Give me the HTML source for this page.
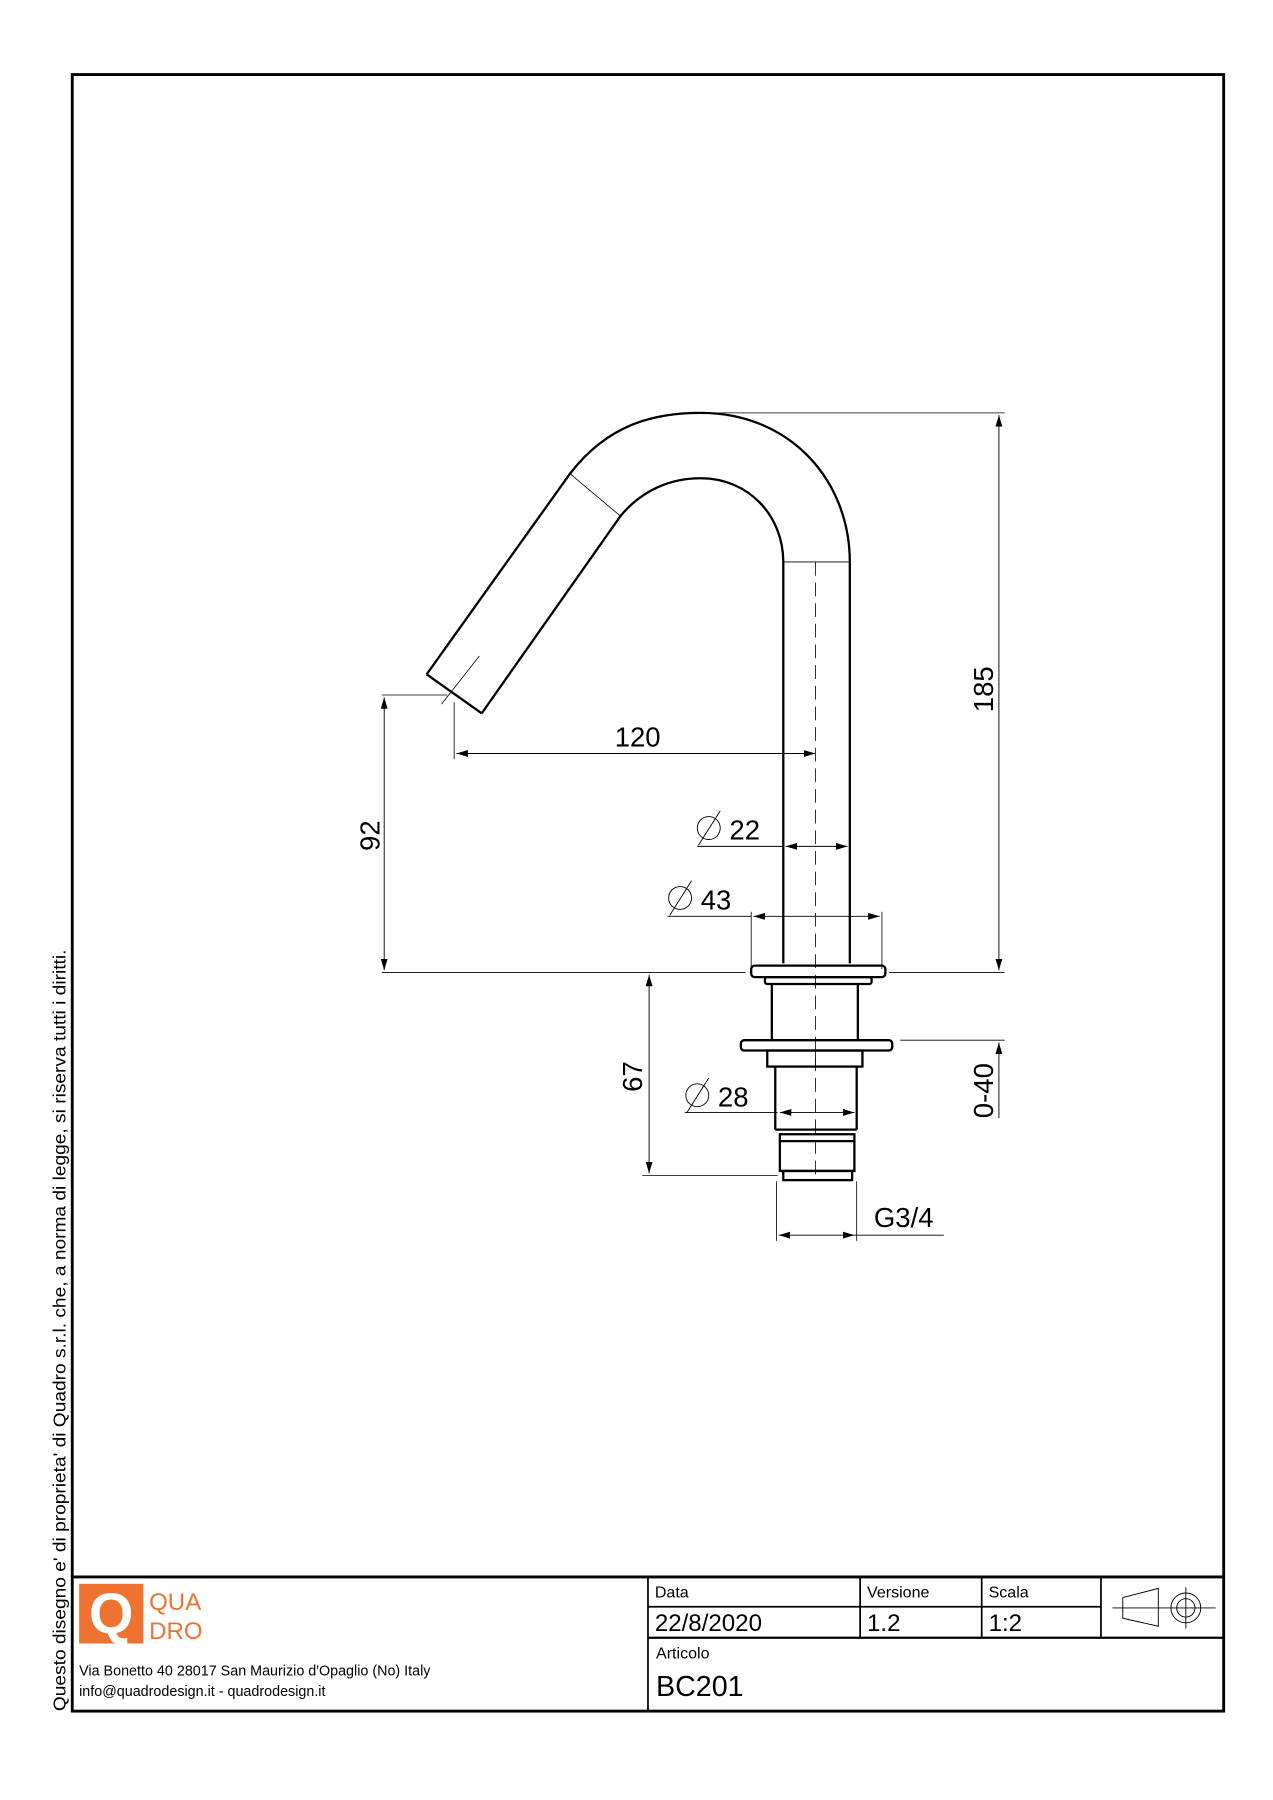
<!DOCTYPE html>
<html><head><meta charset="utf-8"><style>html,body{margin:0;padding:0;background:#fff}svg{display:block}text{font-family:"Liberation Sans",sans-serif}</style></head><body>
<svg width="1273" height="1800" viewBox="0 0 1110 1569.5" preserveAspectRatio="none" xmlns="http://www.w3.org/2000/svg">
<defs>
<marker id="a" viewBox="0 0 10 6" refX="10" refY="3" markerWidth="10" markerHeight="6" markerUnits="userSpaceOnUse" orient="auto-start-reverse"><path d="M0,0 L10,3 L0,6 z" fill="#000"/></marker>
</defs>
<rect width="1110" height="1569.5" fill="#fff"/>
<!-- border -->
<rect x="63" y="65" width="1004" height="1427" fill="none" stroke="#000" stroke-width="2.5"/>
<line x1="63" y1="1375" x2="1067" y2="1375" stroke="#000" stroke-width="2.5"/>
<g stroke="#000" stroke-width="1.5">
<line x1="565" y1="1375" x2="565" y2="1492"/>
<line x1="750" y1="1375" x2="750" y2="1428"/>
<line x1="856" y1="1375" x2="856" y2="1428"/>
<line x1="960" y1="1375" x2="960" y2="1428"/>
<line x1="565" y1="1401" x2="960" y2="1401"/>
<line x1="565" y1="1428" x2="1067" y2="1428" stroke-width="2"/>
</g>
<text x="571" y="1393" font-size="14">Data</text>
<text x="571" y="1422" font-size="21">22/8/2020</text>
<text x="756" y="1393" font-size="14">Versione</text>
<text x="756" y="1422" font-size="21">1.2</text>
<text x="862" y="1393" font-size="14">Scala</text>
<text x="862" y="1422" font-size="21">1:2</text>
<text x="572" y="1446" font-size="14">Articolo</text>
<text x="572" y="1479" font-size="25">BC201</text>
<!-- projection symbol -->
<g stroke="#000" stroke-width="0.8" fill="none">
<path d="M979,1393 L1010,1385 L1010,1418 L979,1411 Z"/>
<circle cx="1034" cy="1402" r="13"/><circle cx="1034" cy="1402" r="8"/>
<line x1="970" y1="1402" x2="1060" y2="1402"/><line x1="1034" y1="1384" x2="1034" y2="1420"/>
</g>
<!-- logo -->
<rect x="69" y="1381" width="56" height="52" fill="#ee7330"/>
<text x="97" y="1424" font-size="50" fill="#fff" text-anchor="middle" font-weight="bold">Q</text>
<text x="130" y="1404" font-size="21" fill="#ee7330">QUA</text>
<text x="130" y="1429" font-size="21" fill="#ee7330">DRO</text>
<text x="69" y="1461" font-size="12.5">Via Bonetto 40  28017 San Maurizio d'Opaglio (No) Italy</text>
<text x="69" y="1479" font-size="12.5">info@quadrodesign.it  -  quadrodesign.it</text>
<text transform="translate(57,1492) rotate(-90)" font-size="15" textLength="664" lengthAdjust="spacingAndGlyphs">Questo disegno e' di proprieta' di Quadro s.r.l. che, a norma di legge, si riserva tutti i diritti.</text>
<!-- tap -->
<g fill="none" stroke="#000" stroke-width="2">
<path d="M372,588 L497,413 C530,370 570,360 611,360 C690,360 741,420 741,490 L741,840"/>
<path d="M420,622 L541,450 C560,427 585,417 611,417 C653,417 683,450 683,490 L683,840"/>
<line x1="372" y1="588" x2="420" y2="622"/>
<rect x="655" y="842" width="117" height="10" rx="3"/>
<rect x="667" y="852" width="93" height="6" rx="2"/>
<line x1="673" y1="858" x2="673" y2="907"/><line x1="748" y1="858" x2="748" y2="907"/>
<rect x="646" y="907" width="132" height="9" rx="3"/>
<rect x="669" y="916" width="83" height="14"/>
<line x1="676" y1="930" x2="676" y2="985"/><line x1="747" y1="930" x2="747" y2="985"/>
<line x1="676" y1="985" x2="747" y2="985"/>
<rect x="680" y="989" width="65" height="32"/>
<line x1="680" y1="995" x2="745" y2="995"/>
<rect x="683" y="1021" width="60" height="8"/>
</g>
<g fill="none" stroke="#000" stroke-width="0.7">
<line x1="497" y1="413" x2="541" y2="450"/>
<line x1="385" y1="614" x2="418" y2="572"/>
<line x1="683" y1="490" x2="741" y2="490"/>
<line x1="711" y1="916" x2="711" y2="930"/>
<line x1="711" y1="490" x2="711" y2="1030" stroke-dasharray="12,6"/>
<!-- extension lines -->
<line x1="611" y1="360" x2="876" y2="360"/>
<line x1="333" y1="848" x2="650" y2="848"/>
<line x1="775" y1="848" x2="876" y2="848"/>
<line x1="333" y1="606" x2="390" y2="606"/>
<line x1="396" y1="612" x2="396" y2="662"/>
<line x1="655" y1="795" x2="655" y2="845"/>
<line x1="769" y1="795" x2="769" y2="845"/>
<line x1="785" y1="907" x2="876" y2="907"/>
<line x1="560" y1="1025" x2="678" y2="1025"/>
<line x1="677" y1="1030" x2="677" y2="1082"/>
<line x1="747" y1="1030" x2="747" y2="1082"/>
</g>
<g fill="none" stroke="#000" stroke-width="0.8">
<line x1="871" y1="362" x2="871" y2="846" marker-start="url(#a)" marker-end="url(#a)"/>
<line x1="335" y1="608" x2="335" y2="846" marker-start="url(#a)" marker-end="url(#a)"/>
<line x1="398" y1="657" x2="711" y2="657" marker-start="url(#a)" marker-end="url(#a)"/>
<line x1="608" y1="738" x2="683" y2="738"/>
<line x1="685" y1="738" x2="739" y2="738" marker-start="url(#a)" marker-end="url(#a)"/>
<line x1="582" y1="799" x2="655" y2="799"/>
<line x1="657" y1="799" x2="767" y2="799" marker-start="url(#a)" marker-end="url(#a)"/>
<line x1="566" y1="850" x2="566" y2="1023" marker-start="url(#a)" marker-end="url(#a)"/>
<line x1="871" y1="909" x2="871" y2="975" marker-start="url(#a)"/>
<line x1="597" y1="970" x2="678" y2="970"/>
<line x1="680" y1="970" x2="745" y2="970" marker-start="url(#a)" marker-end="url(#a)"/>
<line x1="679" y1="1077" x2="745" y2="1077" marker-start="url(#a)" marker-end="url(#a)"/>
<line x1="745" y1="1077" x2="823" y2="1077"/>
<!-- diameter symbols -->
<circle cx="618" cy="722" r="10"/><line x1="609" y1="737" x2="628" y2="707"/>
<circle cx="593" cy="783" r="10"/><line x1="584" y1="798" x2="603" y2="768"/>
<circle cx="608" cy="955" r="10"/><line x1="599" y1="970" x2="618" y2="940"/>
</g>
<g font-size="24">
<text x="536" y="651">120</text>
<text x="636" y="732">22</text>
<text x="611" y="793">43</text>
<text x="626" y="965">28</text>
<text x="762" y="1070">G3/4</text>
<text transform="translate(331,742) rotate(-90)">92</text>
<text transform="translate(866,621) rotate(-90)">185</text>
<text transform="translate(560,952) rotate(-90)">67</text>
<text transform="translate(866,975) rotate(-90)">0-40</text>
</g>
</svg>
</body></html>
